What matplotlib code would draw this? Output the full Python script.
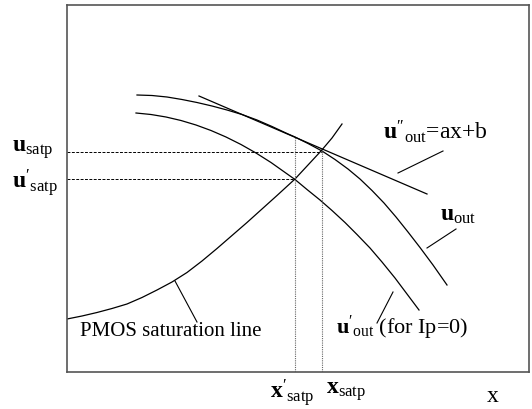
import numpy as np
import matplotlib
matplotlib.use("Agg")
import matplotlib.pyplot as plt

plt.rcParams['font.family'] = ['Liberation Serif', 'DejaVu Serif']
plt.rcParams['mathtext.fontset'] = 'custom'
plt.rcParams['mathtext.rm'] = 'Liberation Serif'
plt.rcParams['mathtext.it'] = 'Liberation Serif:italic'
plt.rcParams['mathtext.bf'] = 'Liberation Serif:bold'

# curves (frame units: x 0..462, y 0..367)
uout_x = [70, 85, 100, 115, 130, 145, 160, 175, 190, 205, 220, 228,
          241, 255, 268, 281, 293, 305, 317, 329, 341, 353, 366, 380]
uout_y = [277, 276.5, 275, 272.5, 269.5, 266, 262, 257.5, 252, 245.5, 238.5, 235,
          228.5, 221, 212.5, 203, 193, 181.5, 169, 155, 140, 124.5, 107, 87]

uout0_x = [69, 84, 99, 114, 129, 144, 159, 174, 189, 204, 216,
           228, 240, 253, 265, 278, 290, 303, 315, 328, 340, 352]
uout0_y = [259, 257.5, 255, 251.5, 247, 241.5, 235, 227.5, 219, 209.5, 201,
           192.5, 182.5, 172, 161.5, 149.5, 137.5, 124, 110, 94, 78, 62]

tang_x = [132, 360]
tang_y = [276, 178]

sat_x = [0, 15, 30, 45, 60, 75, 90, 105, 120, 135,
         150, 165, 180, 195, 210, 228, 241, 254, 265, 275]
sat_y = [53, 56, 59.5, 63.5, 68, 74.5, 82, 90, 99.5, 111,
         123.5, 136.5, 149.5, 163, 176.5, 193, 207, 221, 234, 248]

# saturation points
x_satp0, x_satp = 228, 255
u_satp0, u_satp = 193, 220
tang_top = 235   # where the tangent touches u_out

# leader lines: (x0, y0, x1, y1)
leaders = {
    'pmos': (108, 91, 130, 50),
    'uout0': (326, 80, 310, 49),
    'uout': (389, 143, 360, 124),
    'tang': (376, 221, 331, 199),
}

fig = plt.figure(figsize=(5.32, 4.09), dpi=100)
ax = fig.add_axes([67/532, 37/409, 462/532, 367/409])
ax.set_xlim(0, 462)
ax.set_ylim(0, 367)
ax.set_xticks([])
ax.set_yticks([])
for s in ax.spines.values():
    s.set_color('#555555')
    s.set_linewidth(1.2)

lw = 0.9
ax.plot(uout_x, uout_y, color='black', lw=lw)
ax.plot(uout0_x, uout0_y, color='black', lw=lw)
ax.plot(tang_x, tang_y, color='black', lw=lw)
ax.plot(sat_x, sat_y, color='black', lw=lw)

ax.plot([0, x_satp], [u_satp, u_satp], color='black', lw=0.7, ls=(0, (3, 1.5)))
ax.plot([0, x_satp0], [u_satp0, u_satp0], color='black', lw=0.7, ls=(0, (3, 1.5)))
ax.plot([x_satp0, x_satp0], [0, tang_top], color='#666666', lw=0.8, ls=(0, (1, 1)))
ax.plot([x_satp, x_satp], [0, u_satp + 1], color='#666666', lw=0.8, ls=(0, (1, 1)))

for x0, y0, x1, y1 in leaders.values():
    ax.plot([x0, x1], [y0, y1], color='black', lw=0.8)

big = 17
kw = dict(clip_on=False, va='center')
ax.text(-55, 222, r'$\mathbf{u}_{\mathrm{satp}}$', ha='left', fontsize=big, **kw)
ax.text(-55, 190, r"$\mathbf{u}'_{\mathrm{satp}}$", ha='left', fontsize=big, **kw)
ax.text(225, -20, r"$\mathbf{x}'_{\mathrm{satp}}$", ha='center', fontsize=big, **kw)
ax.text(279, -20, r'$\mathbf{x}_{\mathrm{satp}}$', ha='center', fontsize=big, **kw)
ax.text(426, -25, 'x', ha='center', fontsize=big, **kw)
ax.text(316, 240, r"$\mathbf{u}''_{\mathrm{out}}$=ax+b", ha='left', fontsize=big, **kw)
ax.text(373, 157, r'$\mathbf{u}_{\mathrm{out}}$', ha='left', fontsize=big, **kw)
ax.text(269, 44, r"$\mathbf{u}'_{\mathrm{out}}$ (for Ip=0)", ha='left', fontsize=16, **kw)
ax.text(13, 40, 'PMOS saturation line', ha='left', fontsize=15, **kw)

fig.savefig('out.png', dpi=100)
